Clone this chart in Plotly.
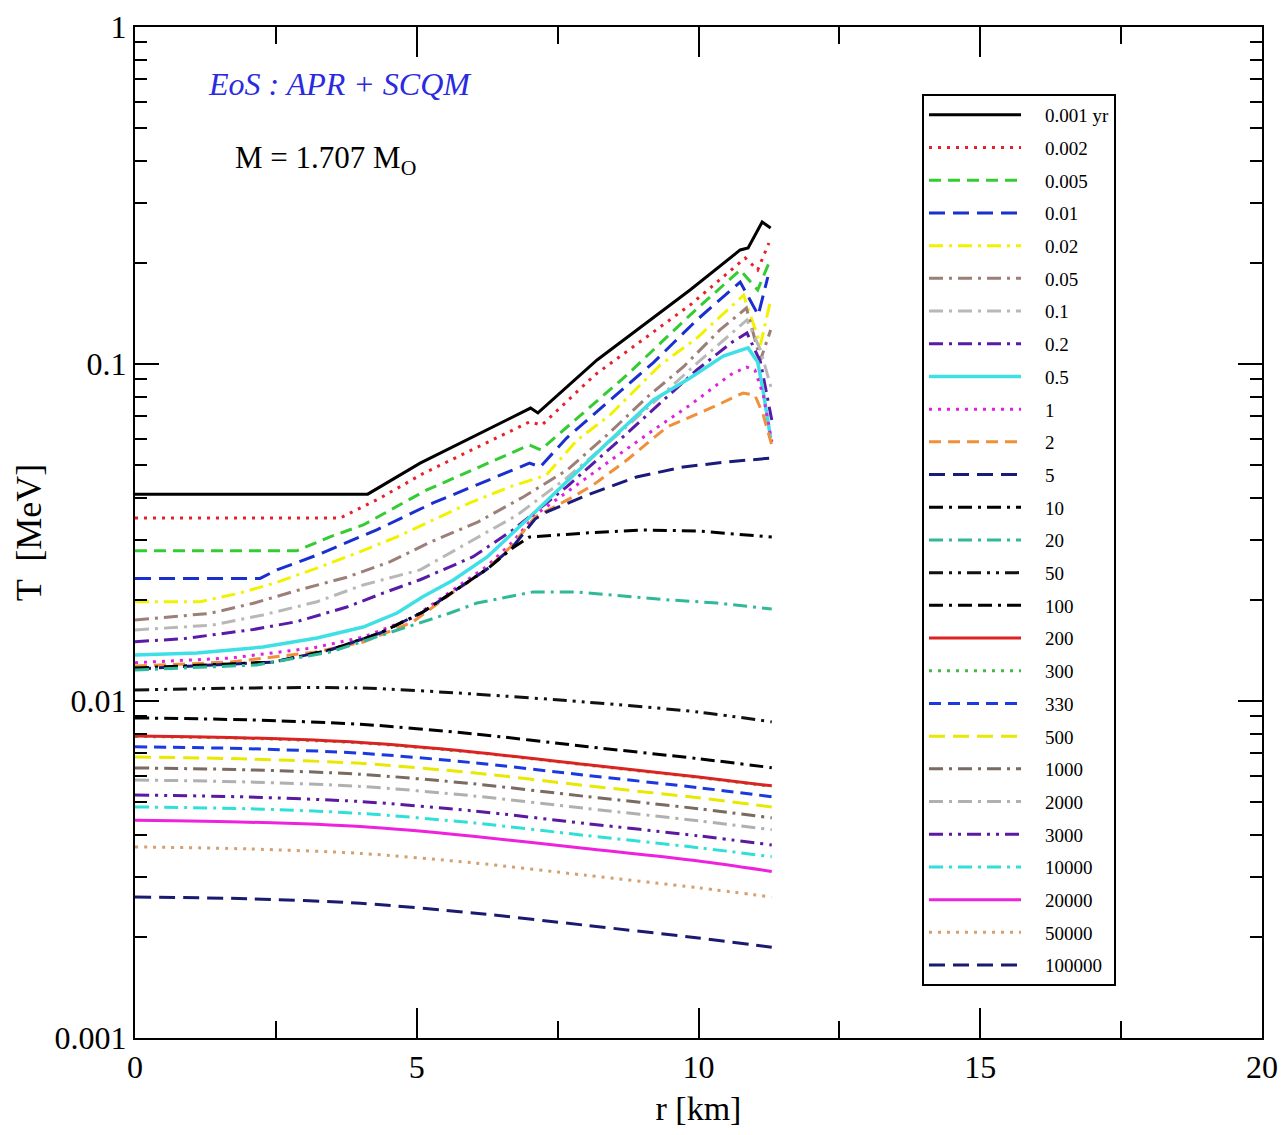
import plotly.graph_objects as go

# ---------------- data ----------------
LABELS = ["0.001 yr", "0.002", "0.005", "0.01", "0.02", "0.05", "0.1", "0.2", "0.5",
          "1", "2", "5", "10", "20", "50", "100", "200", "300", "330", "500",
          "1000", "2000", "3000", "10000", "20000", "50000", "100000"]

# early times: each curve has its own radial knots (km) and temperatures (MeV)
R_0001 = [0, 4.13, 5.06, 5.59, 7.02, 7.15, 8.2, 9.85, 10.74, 10.88, 11.13, 11.28]
T_0001 = [0.0411, 0.0411, 0.0508, 0.0563, 0.0740, 0.0716, 0.1028, 0.1658, 0.2180, 0.2210, 0.2638, 0.2533]

R_0002 = [0, 3.64, 4.35, 5.1, 7.0, 7.22, 8.16, 9.85, 10.83, 11.05, 11.25]
T_0002 = [0.0349, 0.0349, 0.0400, 0.0472, 0.0673, 0.0659, 0.0928, 0.1496, 0.2063, 0.1901, 0.2286]

R_0005 = [0, 2.87, 3.46, 4.05, 5.18, 7.0, 7.2, 8.73, 9.85, 10.74, 11.05, 11.25]
T_0005 = [0.0279, 0.0279, 0.0307, 0.0333, 0.0423, 0.0575, 0.0556, 0.0928, 0.1397, 0.1901, 0.1658, 0.1994]

R_001 = [0, 2.22, 2.52, 3.23, 4.29, 5.29, 7.0, 7.19, 7.66, 9.2, 9.97, 10.74, 11.06, 11.23]
T_001 = [0.0231, 0.0231, 0.0245, 0.0271, 0.0322, 0.0387, 0.0508, 0.0495, 0.0603, 0.1010, 0.1351, 0.1751, 0.1397, 0.1812]

R_002 = [0, 1.15, 1.86, 2.52, 3.23, 3.94, 4.65, 5.18, 5.94, 6.65, 7.3, 7.85, 8.43, 9.32, 9.97, 10.8, 11.1, 11.28]
T_002 = [0.0197, 0.0197, 0.0209, 0.0225, 0.0248, 0.0275, 0.0307, 0.0337, 0.0387, 0.0432, 0.0468, 0.0595, 0.0706, 0.0993, 0.1194, 0.1600, 0.1139, 0.1548]

R_005 = [0, 1.33, 2.1, 2.93, 3.76, 4.53, 5.24, 6.09, 6.89, 7.67, 8.38, 9.09, 9.73, 10.38, 10.85, 11.1, 11.28]
T_005 = [0.0174, 0.0182, 0.0195, 0.0214, 0.0233, 0.0259, 0.0296, 0.0340, 0.0403, 0.0485, 0.0616, 0.0798, 0.0980, 0.1262, 0.1466, 0.1028, 0.1262]

R_01 = [0, 1.38, 2.27, 3.23, 4.05, 5.06, 6.78, 7.66, 8.6, 10.0, 10.86, 11.1, 11.3]
T_01 = [0.01625, 0.0168, 0.0180, 0.0197, 0.0221, 0.0245, 0.0356, 0.0459, 0.0624, 0.1014, 0.1351, 0.1100, 0.0837]

R_02 = [0, 0.85, 2.1, 2.87, 3.76, 4.4, 5.06, 6.0, 6.71, 7.66, 8.6, 9.97, 10.6, 10.86, 11.1, 11.3]
T_02 = [0.0150, 0.0153, 0.0163, 0.0172, 0.0190, 0.0209, 0.0229, 0.0268, 0.0322, 0.0432, 0.0595, 0.0960, 0.1162, 0.1236, 0.1014, 0.0682]

R_05 = [0, 1.1, 2.27, 3.23, 4.05, 4.65, 5.1, 5.65, 6.25, 6.71, 7.1, 8.38, 9.2, 9.85, 10.44, 10.88, 11.05, 11.15, 11.28]
T_05 = [0.01369, 0.01388, 0.01446, 0.01538, 0.01658, 0.01824, 0.02035, 0.02286, 0.02675, 0.03151, 0.03637,
        0.05829, 0.07819, 0.09089, 0.1056, 0.1116, 0.1014, 0.0826, 0.0603]

R_1 = [0, 1.69, 3.16, 4.05, 4.93, 5.65, 6.25, 6.7, 7.1, 8.5, 9.2, 9.85, 10.56, 10.85, 11.0, 11.15, 11.3]
T_1 = [0.01299, 0.01341, 0.01437, 0.01548, 0.01764, 0.02135, 0.02515, 0.02963, 0.03563, 0.05261, 0.06370,
       0.07555, 0.09277, 0.09797, 0.09598, 0.08090, 0.05869]

R_2 = [0, 1.7, 3.2, 4.05, 4.93, 5.65, 6.25, 6.7, 7.1, 7.77, 8.13, 8.73, 9.44, 10.26, 10.79, 11.0, 11.15, 11.3]
T_2 = [0.01270, 0.01305, 0.01397, 0.01496, 0.01716, 0.02106, 0.02464, 0.02904, 0.03516, 0.04030, 0.04374,
       0.05190, 0.06501, 0.07455, 0.08201, 0.08090, 0.07057, 0.05748]

R_5 = [0, 2.45, 3.46, 4.35, 5.11, 5.65, 6.25, 6.7, 7.1, 7.3, 8.07, 8.9, 9.73, 10.5, 11.3]
T_5 = [0.01245, 0.01305, 0.01417, 0.01591, 0.01837, 0.02106, 0.02464, 0.02864, 0.03467, 0.03637, 0.04113,
       0.04620, 0.04948, 0.05119, 0.05261]

R_10 = [0, 2.45, 3.46, 4.35, 5.11, 5.65, 6.25, 6.7, 7.0, 8.0, 9.0, 10.0, 11.3]
T_10 = [0.01253, 0.01305, 0.01417, 0.01591, 0.01837, 0.02106, 0.02464, 0.02844, 0.03066, 0.03151, 0.03217, 0.03195, 0.03066]

R_20 = [0, 2.16, 3.46, 4.65, 5.59, 6.07, 7.06, 7.84, 8.66, 9.5, 10.33, 11.3]
T_20 = [0.01236, 0.01279, 0.01397, 0.01625, 0.01824, 0.01953, 0.02106, 0.02106, 0.02049, 0.01994, 0.01953, 0.01875]

# late times: common radial knots
R_LATE = [0, 2, 4, 6, 8, 10, 11.3]
T_50 = [0.01078, 0.01093, 0.01093, 0.01049, 0.00993, 0.00927, 0.00867]
T_100 = [0.00891, 0.00879, 0.00853, 0.00799, 0.00733, 0.00674, 0.00634]
T_200 = [0.00787, 0.00777, 0.00753, 0.00706, 0.00648, 0.00595, 0.00560]
T_300 = [0.00785, 0.00775, 0.00751, 0.00704, 0.00646, 0.00593, 0.00558]
T_330 = [0.00731, 0.00722, 0.00700, 0.00656, 0.00602, 0.00553, 0.00520]
T_500 = [0.00682, 0.00673, 0.00653, 0.00612, 0.00561, 0.00516, 0.00485]
T_1000 = [0.00633, 0.00625, 0.00606, 0.00568, 0.00521, 0.00479, 0.00450]
T_2000 = [0.00583, 0.00575, 0.00558, 0.00523, 0.00480, 0.00441, 0.00415]
T_3000 = [0.00526, 0.00519, 0.00503, 0.00472, 0.00433, 0.00398, 0.00374]
T_10000 = [0.00485, 0.00479, 0.00464, 0.00435, 0.00399, 0.00367, 0.00345]
T_20000 = [0.00443, 0.00437, 0.00424, 0.00397, 0.00365, 0.00335, 0.00312]
T_50000 = [0.00369, 0.00364, 0.00353, 0.00331, 0.00304, 0.00279, 0.00262]
T_100000 = [0.00262, 0.00259, 0.00251, 0.00235, 0.00216, 0.00198, 0.00186]

X_TICKS = [0, 5, 10, 15, 20]
X_MINOR = [2.5, 7.5, 12.5, 17.5]
Y_TICKS = [0.001, 0.01, 0.1, 1]
Y_TICK_TEXT = ["0.001", "0.01", "0.1", "1"]

# ---------------- styles ----------------
SERIES = [
    (R_0001, T_0001), (R_0002, T_0002), (R_0005, T_0005), (R_001, T_001), (R_002, T_002),
    (R_005, T_005), (R_01, T_01), (R_02, T_02), (R_05, T_05), (R_1, T_1), (R_2, T_2),
    (R_5, T_5), (R_10, T_10), (R_20, T_20),
    (R_LATE, T_50), (R_LATE, T_100), (R_LATE, T_200), (R_LATE, T_300), (R_LATE, T_330),
    (R_LATE, T_500), (R_LATE, T_1000), (R_LATE, T_2000), (R_LATE, T_3000), (R_LATE, T_10000),
    (R_LATE, T_20000), (R_LATE, T_50000), (R_LATE, T_100000),
]

COLORS = ["#000000", "#e8202a", "#33cc33", "#1a2fd0", "#f2f200", "#9c7f78", "#b8b8b8", "#5a1aa8",
          "#3ee0e6", "#e020e0", "#f0903a", "#1a1a7a", "#000000", "#30b89a", "#111111", "#000000",
          "#dd2222", "#44bb44", "#1a3ae0", "#e8e800", "#7a6a60", "#b0b0b0", "#5a1aa0", "#30e0d8",
          "#ee22dd", "#d4a070", "#1a1a70"]

DOT = "3px,6px"
DASH = "12px,7px"
LDASH = "16px,8px"
DDOT = "14px,6px,3px,6px"
DDDOT = "14px,6px,3px,6px,3px,6px"
DDASH = "14px,6px,3px,6px,14px,6px"

DASHES = ["solid", DOT, DASH, LDASH, DDOT, DDOT, DDOT, DDOT, "solid", DOT, DASH, LDASH,
          DDOT, DDOT, DDDOT, DDASH, "solid", DOT, DASH, LDASH, DDOT, DDOT, DDDOT, DDOT,
          "solid", DOT, LDASH]
WIDTHS = [3, 3, 3, 3, 3, 3, 3, 3, 3.5, 3, 3, 3, 3, 3, 3, 3, 3, 3, 3, 3, 3, 3, 3, 3, 3, 3, 3]

SMOOTH = [False] * 14 + [True] * 13

SERIF = "Liberation Serif"
PAD = "\u00a0\u00a0\u00a0\u00a0"

fig = go.Figure()
# draw order: "300" first so that it sits underneath "200"
order = list(range(len(LABELS)))
order.remove(17)
order.insert(0, 17)
for i in order:
    r, t = SERIES[i]
    fig.add_trace(go.Scatter(
        x=r, y=t, mode="lines", name=PAD + LABELS[i],
        legendrank=i + 1, legendgroup=str(i),
        line=dict(color=COLORS[i], width=WIDTHS[i], dash=DASHES[i],
                  shape="spline" if SMOOTH[i] else "linear", smoothing=0.8),
    ))

fig.update_layout(
    width=1281, height=1135,
    margin=dict(l=135, r=19, t=27, b=97),
    paper_bgcolor="white", plot_bgcolor="white",
    font=dict(family=SERIF, color="black", size=30),
    showlegend=True,
    legend=dict(
        x=(922 - 135) / 1127, y=1 - (94 - 27) / 1011, xanchor="left", yanchor="top",
        bgcolor="white", bordercolor="black", borderwidth=2,
        font=dict(family=SERIF, size=19, color="black"),
        itemwidth=92, tracegroupgap=5,
    ),
    xaxis=dict(
        range=[0, 20], tickvals=X_TICKS, ticks="inside", ticklen=30, tickwidth=1.5,
        tickcolor="black", showline=True, linecolor="black", linewidth=2, mirror="allticks",
        showgrid=False, zeroline=False, tickfont=dict(family=SERIF, size=32), automargin=False,
        minor=dict(tickvals=X_MINOR, ticks="inside", ticklen=17, tickwidth=1.5, tickcolor="black"),
        title=dict(text="r [km]", font=dict(family=SERIF, size=34), standoff=12),
    ),
    yaxis=dict(
        type="log", range=[-3, 0], tickvals=Y_TICKS, ticktext=Y_TICK_TEXT,
        ticks="inside", ticklen=24, tickwidth=1.5, tickcolor="black",
        showline=True, linecolor="black", linewidth=2, mirror="allticks",
        showgrid=False, zeroline=False, tickfont=dict(family=SERIF, size=32), automargin=False,
        minor=dict(tickvals=[m * 10 ** e for e in (-3, -2, -1) for m in range(2, 10)],
                   ticks="inside", ticklen=12, tickwidth=1.5, tickcolor="black"),
        title=dict(text="T  [MeV]", font=dict(family=SERIF, size=36), standoff=2),
    ),
    annotations=[
        dict(text="<i>EoS : APR + SCQM</i>", x=340, y=84, xanchor="center", yanchor="middle",
             xref="x domain", yref="y domain",
             showarrow=False, font=dict(family=SERIF, size=32, color="#2a2ae0")),
        dict(text="M = 1.707 M<sub>O</sub>", x=325, y=160, xanchor="center", yanchor="middle",
             xref="x domain", yref="y domain",
             showarrow=False, font=dict(family=SERIF, size=31, color="black")),
    ],
)

# place annotations in pixel terms of the plotting area
for a in fig.layout.annotations:
    a.x = (a.x - 135) / 1127
    a.y = 1 - (a.y - 27) / 1011

fig.write_html("out.html")
